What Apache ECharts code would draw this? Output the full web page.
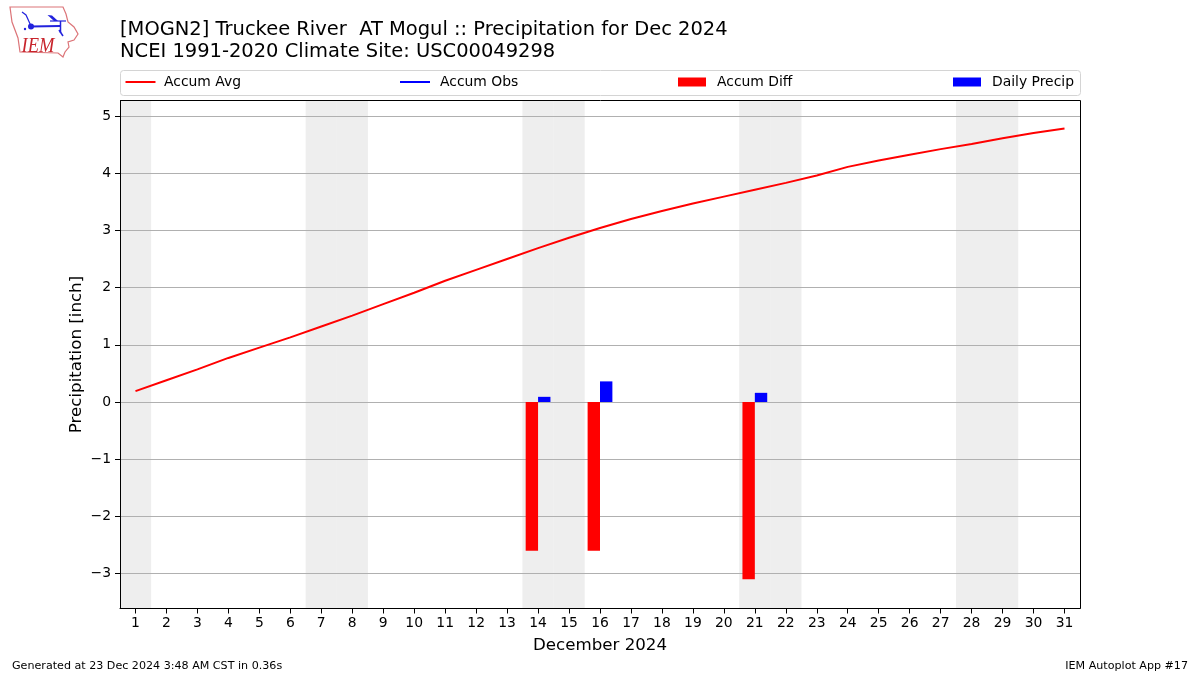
<!DOCTYPE html>
<html><head><meta charset="utf-8">
<script src="https://cdn.jsdelivr.net/npm/echarts@6/dist/echarts.min.js"></script>
<style>html,body{margin:0;padding:0;background:#fff}#c{width:1200px;height:675px}</style>
</head><body><div id="c"></div>
<script>
const days = ['1','2','3','4','5','6','7','8','9','10','11','12','13','14','15','16','17','18','19','20','21','22','23','24','25','26','27','28','29','30','31'];
const accumAvg = [0.19,0.38,0.57,0.77,0.95,1.13,1.32,1.51,1.71,1.91,2.12,2.31,2.50,2.69,2.87,3.04,3.20,3.34,3.47,3.59,3.71,3.83,3.96,4.11,4.22,4.32,4.42,4.51,4.61,4.70,4.78];
const accumObs = [];
const accumDiff = [null,null,null,null,null,null,null,null,null,null,null,null,null,-2.6,null,-2.6,null,null,null,null,-3.1,null,null,null,null,null,null,null,null,null,null];
const dailyPrecip = [null,null,null,null,null,null,null,null,null,null,null,null,null,0.09,null,0.36,null,null,null,null,0.16,null,null,null,null,null,null,null,null,null,null];
const weekend = [1,0,0,0,0,0,1,1,0,0,0,0,0,1,1,0,0,0,0,0,1,1,0,0,0,0,0,1,1,0,0];
const yTicks = [-3,-2,-1,0,1,2,3,4,5];
const titleLines = '[MOGN2] Truckee River  AT Mogul :: Precipitation for Dec 2024\nNCEI 1991-2020 Climate Site: USC00049298';
const F = 'DejaVu Sans';
const chart = echarts.init(document.getElementById('c'), null, {renderer:'canvas'});
const legendItem = (name,left,w,h,pad) => ({show:true,data:[{name,icon:'rect'}],left,top:75,itemWidth:w,itemHeight:h,itemGap:0,padding:0,
  textStyle:{fontFamily:F,fontSize:13.9,color:'#000',padding:[0,0,0,pad]},selectedMode:false});
chart.setOption({
  animation:false,
  backgroundColor:'#fff',
  title:{text:titleLines,left:120,top:19.5,padding:0,textStyle:{fontFamily:F,fontSize:19.48,fontWeight:'normal',color:'#000',lineHeight:21.5}},
  legend:[legendItem('Accum Avg',125.5,30,2,3.5),legendItem('Accum Obs',400,30,2,5),legendItem('Accum Diff',678,28,9,6),legendItem('Daily Precip',953,28,9,6)],
  grid:{left:120,right:120,top:100.5,bottom:66.5,show:false},
  xAxis:[
    {type:'category',data:days,gridIndex:0,z:1,name:'December 2024',nameLocation:'middle',nameGap:28.5,
     nameTextStyle:{fontFamily:F,fontSize:16.67,color:'#000'},
     axisLine:{show:true,onZero:false,lineStyle:{color:'#000',width:1}},
     axisTick:{show:true,alignWithLabel:true,length:5,lineStyle:{color:'#000',width:1}},
     axisLabel:{interval:0,fontFamily:F,fontSize:13.9,color:'#000',margin:8},splitLine:{show:false}},
    {type:'category',data:days,gridIndex:0,show:false}
  ],
  yAxis:[
    {type:'value',min:-3.61,max:5.27,gridIndex:0,z:1,name:'Precipitation [inch]',nameLocation:'middle',nameGap:35,nameMoveOverlap:false,
     nameTextStyle:{fontFamily:F,fontSize:16.67,color:'#000'},
     axisLine:{show:true,onZero:false,lineStyle:{color:'#000',width:1}},
     axisTick:{show:true,length:5,customValues:yTicks,lineStyle:{color:'#000',width:1}},
     axisLabel:{customValues:yTicks,fontFamily:F,fontSize:13.9,color:'#000',margin:9,formatter:v=>String(v).replace('-','\u2212')},
     splitLine:{show:true,lineStyle:{color:'#b0b0b0',width:1}}},
    {type:'value',min:0,max:1,gridIndex:0,show:false}
  ],
  series:[
    {name:'Weekend',type:'bar',xAxisIndex:1,yAxisIndex:1,data:weekend,barWidth:'101%',z:0,silent:true,itemStyle:{color:'#eeeeee'}},
    {name:'Accum Avg',type:'line',data:accumAvg,symbol:'none',z:5,lineStyle:{color:'#ff0000',width:2},itemStyle:{color:'#ff0000'}},
    {name:'Accum Obs',type:'line',data:accumObs,symbol:'none',z:5,lineStyle:{color:'#0000ff',width:2},itemStyle:{color:'#0000ff'}},
    {name:'Accum Diff',type:'bar',data:accumDiff,barWidth:'40%',barGap:0,z:3,itemStyle:{color:'#ff0000'}},
    {name:'Daily Precip',type:'bar',data:dailyPrecip,barWidth:'40%',barGap:0,z:3,itemStyle:{color:'#0000ff'}}
  ],
  graphic:[
    {type:'rect',z:100,shape:{x:120.5,y:100.5,width:960,height:508},style:{fill:'none',stroke:'#000',lineWidth:1},silent:true},
    {type:'rect',shape:{x:120.5,y:70.5,width:960,height:25,r:3},style:{fill:'none',stroke:'#d4d4d4',lineWidth:1},silent:true},
    {type:'text',style:{x:12,y:661,text:'Generated at 23 Dec 2024 3:48 AM CST in 0.36s',font:'11.12px "DejaVu Sans"',fill:'#000'}},
    {type:'text',style:{x:1188,y:661,text:'IEM Autoplot App #17',font:'11.12px "DejaVu Sans"',fill:'#000',align:'right'}},
    {type:'polygon',shape:{points:[[10,7],[63,7],[66,14],[68,22],[74,27],[78,34],[74,40],[68,42],[69,47],[65,52],[63,57],[58,53],[20,52],[18,38],[12,22]]},style:{fill:'none',stroke:'#dc7478',lineWidth:1.2}},
    {type:'polyline',shape:{points:[[31,26.5],[60,26]]},style:{stroke:'#2222dd',lineWidth:2,fill:'none'}},
    {type:'polyline',shape:{points:[[31,26],[26,15],[22,12]]},style:{stroke:'#2222dd',lineWidth:1.2,fill:'none'}},
    {type:'polyline',shape:{points:[[60.5,21],[60.5,33]]},style:{stroke:'#2222dd',lineWidth:1.5,fill:'none'}},
    {type:'polyline',shape:{points:[[59,30],[63,36]]},style:{stroke:'#2222dd',lineWidth:1.5,fill:'none'}},
    {type:'polygon',shape:{points:[[47.5,15],[52,15.5],[58,21],[54,21]]},style:{fill:'#2222dd'}},
    {type:'circle',shape:{cx:31,cy:26.5,r:3},style:{fill:'#2222dd'}},
    {type:'circle',shape:{cx:25,cy:29,r:1.2},style:{fill:'#2222dd'}},
    {type:'polyline',shape:{points:[[50,21],[66,21]]},style:{stroke:'#2222dd',lineWidth:1.2,fill:'none'}},
    {type:'text',position:[21.5,35.5],scaleX:0.84,style:{x:0,y:0,text:'IEM',font:'italic 22px "Liberation Serif"',fill:'#c8242c'}}
  ]
});
</script></body></html>
